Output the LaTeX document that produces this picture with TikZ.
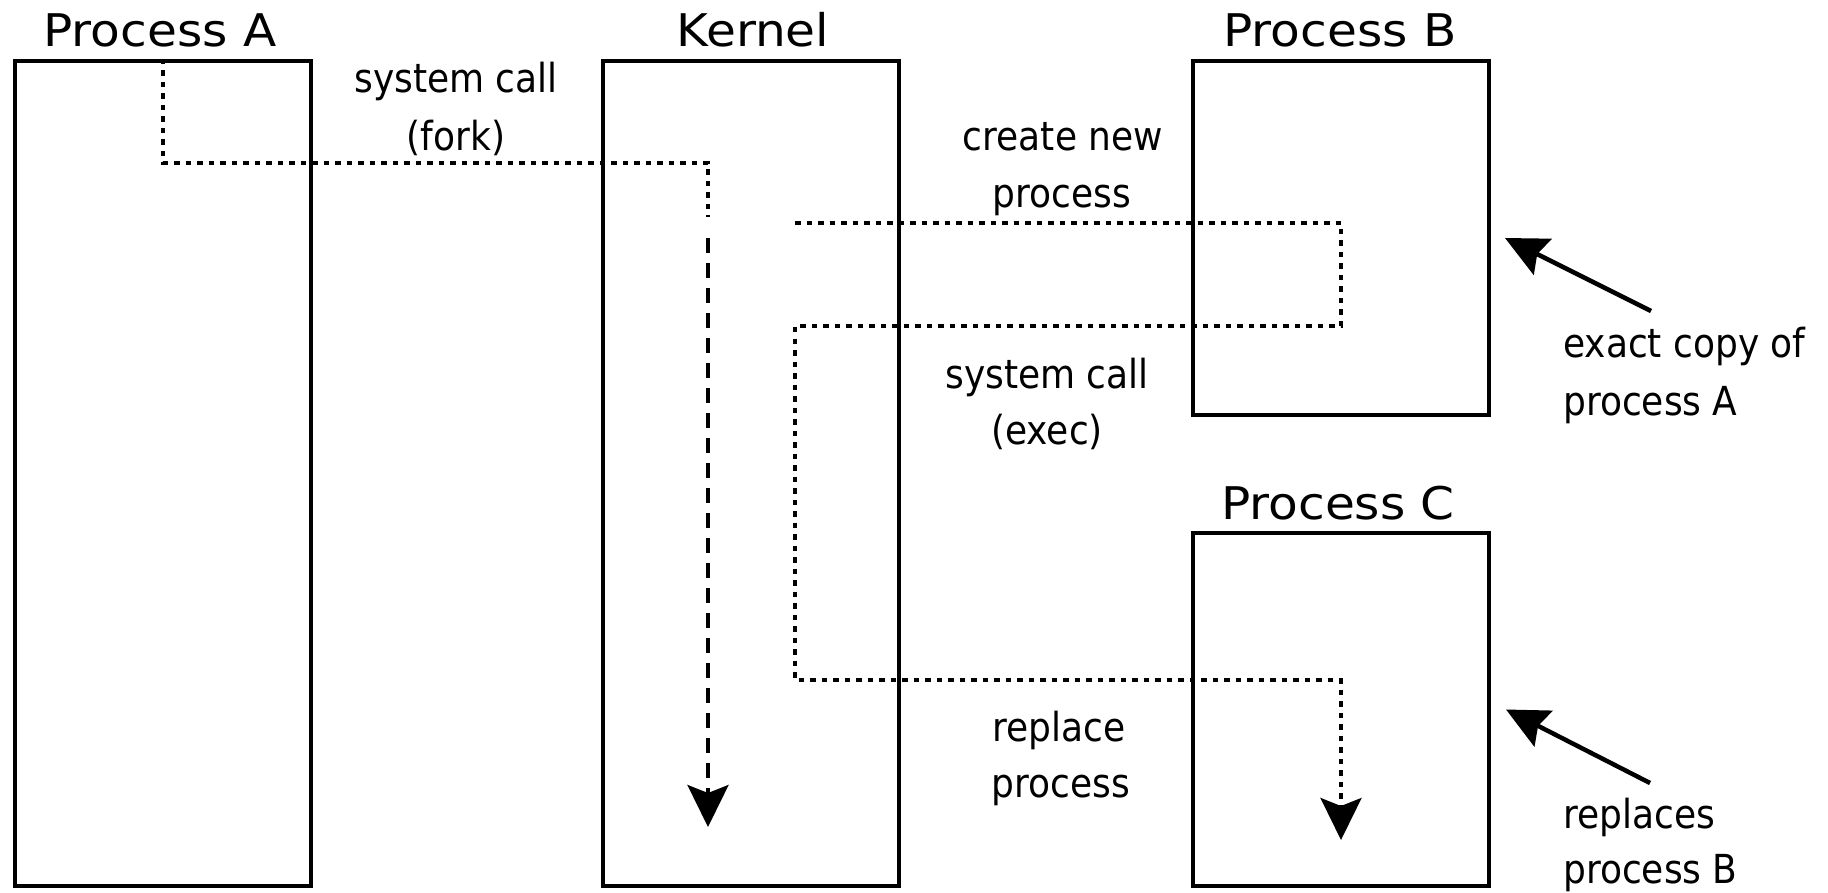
\documentclass[tikz,border=0pt]{standalone}
\usepackage{fontspec}
\setmainfont{DejaVu Sans}
\newfontfamily\bodyfnt{DejaVu Sans}[FakeStretch=0.9]
\newfontfamily\titlefnt{DejaVu Sans}[FakeStretch=1.08]
\usetikzlibrary{arrows.meta}
\begin{document}
\begin{tikzpicture}[x=1pt,y=-1pt,
 box/.style={draw, line width=4pt, inner sep=0pt, minimum width=296pt},
 title/.style={font=\titlefnt\fontsize{45}{54}\selectfont, anchor=base, inner sep=0pt},
 lbl/.style={font=\bodyfnt\fontsize{40}{50}\selectfont, anchor=base, inner sep=0pt},
 lbll/.style={font=\bodyfnt\fontsize{40}{50}\selectfont, anchor=base west, inner sep=0pt},
 dotline/.style={line width=3.5pt, dash pattern=on 5.5pt off 6pt},
 dashline/.style={line width=4pt, dash pattern=on 15pt off 10pt},
 head/.style={-{Stealth[length=42pt,width=41pt,inset=8pt]}},
 solidhead/.style={line width=4.5pt, -{Stealth[length=42pt,width=40pt,inset=6pt]}},
]
\useasboundingbox (0,0) rectangle (1828,893);

% boxes
\node[box, minimum height=825pt] (pa) at (163,473.5) {};
\node[box, minimum height=825pt] (kn) at (751,473.5) {};
\node[box, minimum height=354pt] (pb) at (1341,238) {};
\node[box, minimum height=353pt] (pc) at (1341,709.5) {};

% titles
\node[title] (tA) at (160,47) {Process A};
\node[title] (tK) at (753,47) {Kernel};
\node[title] (tB) at (1340,47) {Process B};
\node[title] (tC) at (1338,519) {Process C};

% labels
\node[lbl] (fork1) at (456,93) {system call};
\node[lbl] (fork2) at (456,151) {(fork)};
\node[lbl] (cn1) at (1063,151) {create new};
\node[lbl] (cn2) at (1062,208) {process};
\node[lbl] (ex1) at (1047,388) {system call};
\node[lbl] (ex2) at (1047,444) {(exec)};
\node[lbl] (rp1) at (1059,741) {replace};
\node[lbl] (rp2) at (1061,797) {process};
\node[lbll] (ec1) at (1563,357) {exact copy of};
\node[lbll] (ec2) at (1563,415) {process A};
\node[lbll] (rb1) at (1563,828) {replaces};
\node[lbll] (rb2) at (1563,883) {process B};

% fork connector
\coordinate (f1) at (708,163);
\coordinate (f2) at (708,217);
\coordinate (f2b) at (708,238);
\coordinate (f3) at (708,827);
\draw[dotline] (pa.north) |- (f1) -- (f2);
\draw[dashline, head] (f2b) -- (f3);

% create / exec / replace connector
\coordinate (c1) at (795,223);
\coordinate (c2) at (1341,223);
\coordinate (c3) at (1341,326);
\coordinate (c4) at (795,326);
\coordinate (c5) at (795,680);
\coordinate (c6) at (1341,680);
\coordinate (c7) at (1341,840);
\draw[dotline, head] (c1) -- (c2) -- (c3) -- (c4) -- (c5) -- (c6) -- (c7);

% annotation arrows
\coordinate (e1) at (1651,311);
\coordinate (e2) at (1650,783);
\draw[solidhead] (e1) -- ([xshift=14pt]pb.east);
\draw[solidhead] (e2) -- ([xshift=15pt]pc.east);
\end{tikzpicture}
\end{document}
